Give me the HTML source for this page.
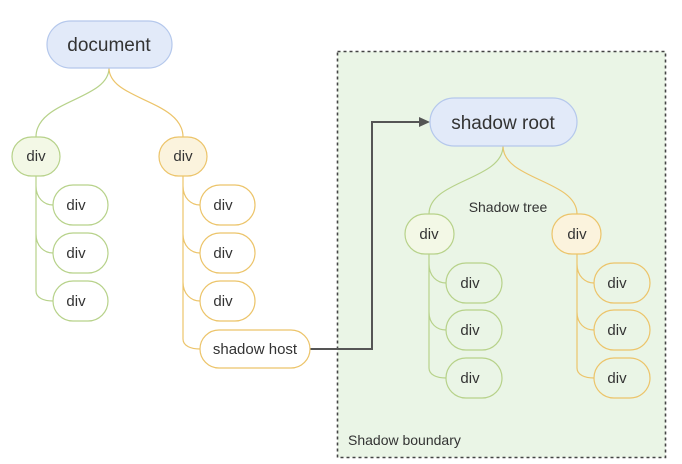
<!DOCTYPE html>
<html><head><meta charset="utf-8"><style>
html,body{margin:0;padding:0;background:#fff;width:682px;height:464px;overflow:hidden}
svg text{font-family:"Liberation Sans",sans-serif;fill:#333}
</style></head><body>
<svg width="682" height="464" viewBox="0 0 682 464" xmlns="http://www.w3.org/2000/svg">
<rect x="337.5" y="51.5" width="328" height="406" fill="#eaf5e6" stroke="#444" stroke-width="1.6" stroke-dasharray="3,3"/>
<g fill="none" stroke-width="1.2">
<path d="M109 68 C109 100 36 100 36 137" stroke="#b7d28a"/>
<path d="M109 68 C109 100 183 100 183 137" stroke="#ecc46a"/>
<path d="M36 176 V291 C36 298 44 301 53 301 M36 186 C36 198 44 205 53 205 M36 234 C36 246 44 253 53 253" stroke="#b7d28a"/>
<path d="M183 176 V339 C183 346 191 349 200 349 M183 186 C183 198 191 205 200 205 M183 234 C183 246 191 253 200 253 M183 282 C183 294 191 301 200 301" stroke="#ecc46a"/>
<path d="M503 146 C503 180 429 180 429 214" stroke="#b7d28a"/>
<path d="M503 146 C503 180 577 180 577 214" stroke="#ecc46a"/>
<path d="M429 254 V368 C429 375 437 378 446 378 M429 264 C429 276 437 283 446 283 M429 312 C429 324 437 330 446 330" stroke="#b7d28a"/>
<path d="M577 254 V368 C577 375 585 378 594 378 M577 264 C577 276 585 283 594 283 M577 312 C577 324 585 330 594 330" stroke="#ecc46a"/>
</g>
<path d="M310 349 H372 V122 H420" fill="none" stroke="#555" stroke-width="2"/>
<path d="M430 122 L419 117 L419 127 Z" fill="#555"/>
<g stroke-width="1.2">
<rect x="47" y="21" width="125" height="47" rx="23.5" fill="#e2eaf9" stroke="#b5c8ec"/>
<rect x="430" y="98" width="147" height="48" rx="24" fill="#e2eaf9" stroke="#b5c8ec"/>
<rect x="12" y="137" width="48" height="39" rx="19.5" fill="#f3f8e6" stroke="#b7d28a"/>
<rect x="159" y="137" width="48" height="39" rx="19.5" fill="#fbf3dd" stroke="#ecc46a"/>
<rect x="405" y="214" width="49" height="40" rx="20" fill="#f3f8e6" stroke="#b7d28a"/>
<rect x="552" y="214" width="49" height="40" rx="20" fill="#fbf3dd" stroke="#ecc46a"/>
<g fill="#fff" stroke="#b7d28a">
<rect x="53" y="185" width="55" height="40" rx="20"/><rect x="53" y="233" width="55" height="40" rx="20"/><rect x="53" y="281" width="55" height="40" rx="20"/>
</g>
<g fill="#fff" stroke="#ecc46a">
<rect x="200" y="185" width="55" height="40" rx="20"/><rect x="200" y="233" width="55" height="40" rx="20"/><rect x="200" y="281" width="55" height="40" rx="20"/>
<rect x="200" y="330" width="110" height="38" rx="19"/>
</g>
<g fill="#eaf5e6" stroke="#b7d28a">
<rect x="446" y="263" width="56" height="40" rx="20"/><rect x="446" y="310" width="56" height="40" rx="20"/><rect x="446" y="358" width="56" height="40" rx="20"/>
</g>
<g fill="#eaf5e6" stroke="#ecc46a">
<rect x="594" y="263" width="56" height="40" rx="20"/><rect x="594" y="310" width="56" height="40" rx="20"/><rect x="594" y="358" width="56" height="40" rx="20"/>
</g>
</g>
<g text-anchor="middle">
<text x="109" y="51" font-size="19">document</text>
<text x="503" y="129" font-size="19">shadow root</text>
<g font-size="15">
<text x="36" y="161">div</text><text x="183" y="161">div</text>
<text x="429" y="239">div</text><text x="577" y="239">div</text>
<text x="76" y="210">div</text><text x="76" y="258">div</text><text x="76" y="306">div</text>
<text x="223" y="210">div</text><text x="223" y="258">div</text><text x="223" y="306">div</text>
<text x="255" y="354">shadow host</text>
<text x="470" y="288">div</text><text x="470" y="335">div</text><text x="470" y="383">div</text>
<text x="617" y="288">div</text><text x="617" y="335">div</text><text x="617" y="383">div</text>
</g>
<text x="508" y="212" font-size="14">Shadow tree</text>
</g>
<text x="348" y="445" font-size="14">Shadow boundary</text>
</svg>
</body></html>
